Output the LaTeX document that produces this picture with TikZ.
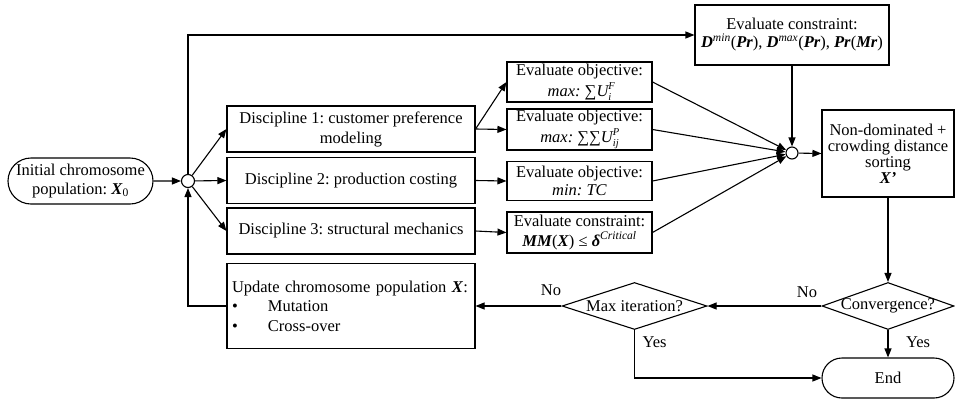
\documentclass[tikz,border=0pt]{standalone}
\usepackage{fontspec}
\setmainfont{Liberation Serif}
\usetikzlibrary{arrows.meta,shapes.geometric,shapes.misc}
\newcommand\bi[1]{\textbf{\textit{#1}}}
\newcommand\scrsize{\fontsize{10.5}{10.5}\selectfont}
\newcommand\supsub[2]{\sbox0{\raisebox{7pt}{\scrsize #1}}\sbox2{\raisebox{-4pt}{\scrsize #2}}\rlap{\usebox0}\usebox2\ifdim\wd0>\wd2 \hspace{\dimexpr\wd0-\wd2\relax}\fi}
\frenchspacing
\begin{document}
\frenchspacing
\begin{tikzpicture}[x=1pt,y=-1pt,
  font=\fontsize{16.5}{18.5}\selectfont,
  line width=1.1pt,
  >={Triangle[length=9pt,width=7pt]},
  box/.style={draw, rectangle, inner sep=1pt, align=center},
  stad/.style={draw, rounded rectangle, inner sep=0pt, align=center},
  dmd/.style={draw, diamond, inner sep=0pt},
  junc/.style={draw, circle, fill=white, inner sep=0pt},
  lbl/.style={inner sep=0pt}]
\useasboundingbox[fill=white] (0,0) rectangle (955,402);

% nodes
\node[stad, minimum width=145pt, minimum height=46pt] (init) at (80.5,181) {Initial chromosome\\population: \bi{X}\textsubscript{0}};
\node[junc, minimum size=13pt] (j1) at (188,181) {};

\node[box, minimum width=248pt, minimum height=46pt, font=\fontsize{16.5}{20}\selectfont] (d1) at (351,129) {Discipline 1: customer preference\\modeling};
\node[box, minimum width=248pt, minimum height=46pt] (d2) at (351,180.5) {Discipline 2: production costing};
\node[box, minimum width=248pt, minimum height=46pt] (d3) at (351,231) {Discipline 3: structural mechanics};
\node[box, minimum width=248pt, minimum height=85pt, text width=238pt, align=left, font=\fontsize{16.5}{19.5}\selectfont] (upd) at (351,306) {Update chromosome population \bi{X}:\\\makebox[36pt][l]{\textbullet}Mutation\\\makebox[36pt][l]{\textbullet}Cross-over};

\node[box, minimum width=145pt, minimum height=40pt, font=\fontsize{16.5}{21}\selectfont] (e1) at (579.5,82) {Evaluate objective:\\\textit{max: ∑U\supsub{F}{i}}};
\node[box, minimum width=145pt, minimum height=41pt, font=\fontsize{16.5}{21}\selectfont] (e2) at (579.5,129.5) {Evaluate objective:\\\textit{max: ∑∑U\supsub{P}{ij}}};
\node[box, minimum width=145pt, minimum height=39pt] (e3) at (579.5,181) {Evaluate objective:\\\textit{min: TC}};
\node[box, minimum width=145pt, minimum height=41pt, font=\fontsize{16.5}{19.5}\selectfont] (e4) at (579.5,232.5) {Evaluate constraint:\\\bi{MM}(\bi{X}) ≤ \bi{δ}\textsuperscript{\textit{Critical}}};

\node[box, minimum width=194pt, minimum height=60pt, font=\fontsize{16.5}{18}\selectfont] (con) at (792,35) {Evaluate constraint:\\\bi{D}\textsuperscript{\textit{min}}(\bi{Pr}), \bi{D}\textsuperscript{\textit{max}}(\bi{Pr}), \bi{Pr}(\bi{Mr})};
\node[junc, minimum size=12pt] (j2) at (792,153) {};
\node[box, minimum width=132pt, minimum height=87pt, font=\fontsize{16.5}{16}\selectfont] (nd) at (888,153.5) {Non-dominated +\\crowding distance\\sorting\\\bi{X’}};

\node[dmd, minimum width=132pt, minimum height=47pt, label={center:Convergence?}] (conv) at (888,306) {};
\node[dmd, minimum width=145pt, minimum height=47pt, label={center:Max iteration?}] (mi) at (634.5,306) {};
\node[stad, minimum width=132pt, minimum height=40pt] (end) at (888,378) {End};

\node[lbl] (no1) at (807,292) {No};
\node[lbl] (no2) at (551,290) {No};
\node[lbl, anchor=west] (yes1) at (642,342) {Yes};
\node[lbl] (yes2) at (918,342) {Yes};

% connectors
\draw[->] (init) -- (j1);
\draw[->] (j1) -- (d1.west);
\draw[->] (j1) -- (d2.west);
\draw[->] (j1) -- (d3.west);
\draw[->] (j1.north) |- (con.west);
\draw[->] (upd.west) -| (j1.south);
\draw[->] (d1.east) -- (e1.west);
\draw[->] (d1.east) -- (e2.west);
\draw[->] (d2.east) -- (e3.west);
\draw[->] (d3.east) -- (e4.west);
\draw[->] (e1.east) -- (j2);
\draw[->] (e2.east) -- (j2);
\draw[->] (e3.east) -- (j2);
\draw[->] (e4.east) -- (j2);
\draw[->] (con.south) -- (j2.north);
\draw[->] (j2) -- (nd.west);
\draw[->] (nd.south) -- (conv.north);
\draw[->] (conv.west) -- (mi.east);
\draw[->] (mi.west) -- (upd.east);
\draw[->] (mi.south) |- (end.west);
\draw[->] (conv.south) -- (end.north);
\end{tikzpicture}
\end{document}
